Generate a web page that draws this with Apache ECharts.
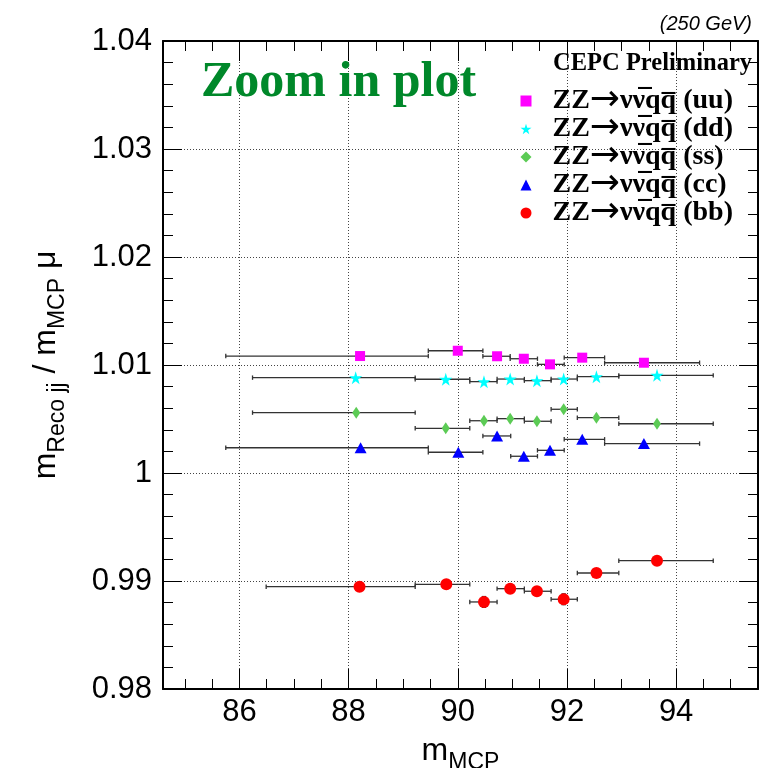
<!DOCTYPE html>
<html>
<head>
<meta charset="utf-8">
<script src="https://cdn.jsdelivr.net/npm/echarts@6/dist/echarts.min.js"></script>
<style>
html,body{margin:0;padding:0;background:#fff;}
#chart{width:763px;height:768px;}
</style>
</head>
<body>
<div id="chart"></div>
<script>
// ---- data ----
const xTickLabels = [86, 88, 90, 92, 94];
const yTickLabels = [0.98, 0.99, 1, 1.01, 1.02, 1.03, 1.04];

const seriesNames = [
  'ZZ\u2192\u03bd\u03bd\u0305qq\u0305 (uu)',
  'ZZ\u2192\u03bd\u03bd\u0305qq\u0305 (dd)',
  'ZZ\u2192\u03bd\u03bd\u0305qq\u0305 (ss)',
  'ZZ\u2192\u03bd\u03bd\u0305qq\u0305 (cc)',
  'ZZ\u2192\u03bd\u03bd\u0305qq\u0305 (bb)'
];

const uuMass  = [88.21, 90.00, 90.72, 91.21, 91.69, 92.28, 93.41];
const uuRatio = [1.01083, 1.01132, 1.01081, 1.01058, 1.01006, 1.01068, 1.01021];
const uuLow   = [85.75, 89.46, 90.46, 90.96, 91.46, 91.95, 92.69];
const uuHigh  = [89.46, 90.46, 90.96, 91.46, 91.95, 92.69, 94.43];

const ddMass  = [88.13, 89.78, 90.48, 90.96, 91.45, 91.94, 92.54, 93.65];
const ddRatio = [1.00883, 1.00868, 1.00846, 1.00870, 1.00855, 1.00870, 1.00892, 1.00904];
const ddLow   = [86.24, 89.22, 90.22, 90.72, 91.22, 91.71, 92.19, 92.95];
const ddHigh  = [89.22, 90.22, 90.72, 91.22, 91.71, 92.19, 92.95, 94.68];

const ssMass  = [88.14, 89.78, 90.48, 90.96, 91.45, 91.94, 92.54, 93.65];
const ssRatio = [1.00559, 1.00414, 1.00484, 1.00503, 1.00479, 1.00590, 1.00512, 1.00456];
const ssLow   = [86.24, 89.22, 90.22, 90.72, 91.22, 91.71, 92.19, 92.95];
const ssHigh  = [89.22, 90.22, 90.72, 91.22, 91.71, 92.19, 92.95, 94.68];

const ccMass  = [88.22, 90.01, 90.72, 91.21, 91.69, 92.28, 93.41];
const ccRatio = [1.00234, 1.00192, 1.00343, 1.00155, 1.00210, 1.00312, 1.00272];
const ccLow   = [85.75, 89.46, 90.46, 90.97, 91.46, 91.95, 92.69];
const ccHigh  = [89.46, 90.46, 90.97, 91.46, 91.95, 92.69, 94.43];

const bbMass  = [88.20, 89.79, 90.48, 90.96, 91.45, 91.94, 92.54, 93.65];
const bbRatio = [0.98947, 0.98969, 0.98806, 0.98929, 0.98905, 0.98831, 0.99074, 0.99188];
const bbLow   = [86.49, 89.22, 90.22, 90.72, 91.22, 91.71, 92.19, 92.95];
const bbHigh  = [89.22, 90.22, 90.72, 91.22, 91.71, 92.19, 92.95, 94.68];
const bbRatioErr = [0.0003, 0.0003, 0.0005, 0.0003, 0.0003, 0.0005, 0.0003, 0.0003];

// ---- build ----
const STAR = 'path://M50,0 L61,35 L98,35 L68,57 L79,91 L50,70 L21,91 L32,57 L2,35 L39,35 Z';
const groups = [
  {name: seriesNames[0], mass: uuMass, ratio: uuRatio, low: uuLow, high: uuHigh, err: null, color: '#ff00ff', symbol: 'rect', size: 10},
  {name: seriesNames[1], mass: ddMass, ratio: ddRatio, low: ddLow, high: ddHigh, err: null, color: '#00ffff', symbol: STAR, size: 13},
  {name: seriesNames[2], mass: ssMass, ratio: ssRatio, low: ssLow, high: ssHigh, err: null, color: '#5ccb55', symbol: 'diamond', size: [8, 12]},
  {name: seriesNames[3], mass: ccMass, ratio: ccRatio, low: ccLow, high: ccHigh, err: null, color: '#0000ff', symbol: 'triangle', size: [12, 11]},
  {name: seriesNames[4], mass: bbMass, ratio: bbRatio, low: bbLow, high: bbHigh, err: bbRatioErr, color: '#ff0000', symbol: 'circle', size: 12}
];

function errorRender(params, api) {
  const x = api.value(0), y = api.value(1);
  const lo = api.value(2), hi = api.value(3), ey = api.value(4);
  const p1 = api.coord([lo, y]);
  const p2 = api.coord([hi, y]);
  const st = {stroke: '#333', lineWidth: 1.3};
  const children = [
    {type: 'line', shape: {x1: p1[0], y1: p1[1], x2: p2[0], y2: p2[1]}, style: st},
    {type: 'line', shape: {x1: p1[0], y1: p1[1] - 2.2, x2: p1[0], y2: p1[1] + 2.2}, style: st},
    {type: 'line', shape: {x1: p2[0], y1: p2[1] - 2.2, x2: p2[0], y2: p2[1] + 2.2}, style: st}
  ];
  if (ey > 0) {
    const q1 = api.coord([x, y - ey]);
    const q2 = api.coord([x, y + ey]);
    children.push({type: 'line', shape: {x1: q1[0], y1: q1[1], x2: q2[0], y2: q2[1]}, style: st});
    children.push({type: 'line', shape: {x1: q1[0] - 2.2, y1: q1[1], x2: q1[0] + 2.2, y2: q1[1]}, style: st});
    children.push({type: 'line', shape: {x1: q2[0] - 2.2, y1: q2[1], x2: q2[0] + 2.2, y2: q2[1]}, style: st});
  }
  return {type: 'group', children: children};
}

const series = [];
groups.forEach(function (g, gi) {
  series.push({
    type: 'custom',
    name: 'err' + gi,
    renderItem: errorRender,
    encode: {x: 0, y: 1},
    z: 2,
    silent: true,
    data: g.mass.map(function (m, i) { return [m, g.ratio[i], g.low[i], g.high[i], g.err ? g.err[i] : 0]; })
  });
});
groups.forEach(function (g) {
  series.push({
    type: 'scatter',
    name: g.name,
    symbol: g.symbol,
    symbolSize: g.size,
    itemStyle: {color: g.color, opacity: 1},
    z: 5,
    data: g.mass.map(function (m, i) { return [m, g.ratio[i]]; })
  });
});

const SANS = 'Liberation Sans, Arial, Helvetica, sans-serif';
const SERIF = 'Liberation Serif, Times New Roman, serif';

const nameRich = {
  m: {fontFamily: SANS, fontSize: 32, lineHeight: 34, verticalAlign: 'top', color: '#000'},
  s: {fontFamily: SANS, fontSize: 23, lineHeight: 24, padding: [16, 0, 0, 0], verticalAlign: 'top', color: '#000'}
};

const legendRich = {
  t: {fontFamily: SERIF, fontWeight: 'bold', fontSize: 28, lineHeight: 22, color: '#000'},
  a: {fontFamily: 'DejaVu Sans', fontWeight: 'normal', fontSize: 36, lineHeight: 22, color: '#000'}
};

const axisLineStyle = {show: true, onZero: false, lineStyle: {color: '#000', width: 2}};
const gridLine = {show: true, lineStyle: {color: '#444', width: 1, type: [1, 2]}};

const option = {
  animation: false,
  backgroundColor: '#fff',
  grid: {left: 163, right: 5, top: 41, bottom: 79, containLabel: false, outerBoundsMode: 'none'},
  title: [
    {text: 'Zoom in plot', left: 201, top: 58, padding: 0,
     textStyle: {fontFamily: SERIF, fontWeight: 'bold', fontSize: 50, lineHeight: 50, color: '#00882a'}},
    {text: 'CEPC Preliminary', right: 11, top: 51, padding: 0,
     textStyle: {fontFamily: SERIF, fontWeight: 'bold', fontSize: 24.5, lineHeight: 25, color: '#000'}},
    {text: '(250 GeV)', right: 11, top: 14, padding: 0,
     textStyle: {fontFamily: SANS, fontStyle: 'italic', fontWeight: 'normal', fontSize: 20, lineHeight: 20, color: '#000'}}
  ],
  legend: {
    data: seriesNames,
    orient: 'vertical',
    left: 520.5,
    top: 83,
    padding: 0,
    itemWidth: 11,
    itemHeight: 11,
    itemGap: -8,
    selectedMode: false,
    formatter: function (name) {
      const parts = name.split('\u2192');
      return '{t|' + parts[0] + '}{a|\u2192}{t|' + parts[1] + '}';
    },
    textStyle: {padding: [0, 0, 0, 16], fontFamily: SERIF, fontWeight: 'bold', fontSize: 28, lineHeight: 22, color: '#000', rich: legendRich}
  },
  xAxis: [
    {
      type: 'value', position: 'bottom', min: 84.6, max: 95.5, splitNumber: 5,
      axisLine: axisLineStyle,
      axisTick: {show: true, inside: true, length: 20, lineStyle: {color: '#000', width: 1}},
      minorTick: {show: true, splitNumber: 4, length: 10, lineStyle: {color: '#000', width: 1}},
      axisLabel: {
        show: true, margin: 8, fontSize: 31, lineHeight: 31, fontFamily: SANS, color: '#000',
        showMinLabel: false, showMaxLabel: false,
        formatter: function (v) { return xTickLabels.indexOf(Math.round(v * 100) / 100) >= 0 ? String(Math.round(v)) : ''; }
      },
      splitLine: gridLine,
      name: '{m|m}{s|MCP}',
      nameLocation: 'middle',
      nameGap: 46,
      nameTextStyle: {rich: nameRich}
    },
    {
      type: 'value', position: 'top', min: 84.6, max: 95.5, splitNumber: 5,
      axisLine: axisLineStyle,
      axisTick: {show: true, inside: true, length: 20, lineStyle: {color: '#000', width: 1}},
      minorTick: {show: true, splitNumber: 4, length: 10, lineStyle: {color: '#000', width: 1}},
      axisLabel: {show: false},
      splitLine: {show: false}
    }
  ],
  yAxis: [
    {
      type: 'value', position: 'left', min: yTickLabels[0], max: yTickLabels[yTickLabels.length - 1], interval: 0.01,
      axisLine: axisLineStyle,
      axisTick: {show: true, inside: true, length: 19, lineStyle: {color: '#000', width: 1}},
      minorTick: {show: true, splitNumber: 5, length: 10, lineStyle: {color: '#000', width: 1}},
      axisLabel: {show: true, margin: 11, fontSize: 31, fontFamily: SANS, color: '#000'},
      splitLine: gridLine,
      name: '{m|m}{s|Reco jj}{m| / m}{s|MCP}{m| \u03bc}',
      nameLocation: 'middle',
      nameRotate: 90,
      nameGap: 99,
      nameTextStyle: {rich: nameRich}
    },
    {
      type: 'value', position: 'right', min: yTickLabels[0], max: yTickLabels[yTickLabels.length - 1], interval: 0.01,
      axisLine: axisLineStyle,
      axisTick: {show: true, inside: true, length: 19, lineStyle: {color: '#000', width: 1}},
      minorTick: {show: true, splitNumber: 5, length: 10, lineStyle: {color: '#000', width: 1}},
      axisLabel: {show: false},
      splitLine: {show: false}
    }
  ],
  series: series
};

const chart = echarts.init(document.getElementById('chart'), null, {renderer: 'canvas'});
chart.setOption(option);
</script>
</body>
</html>
